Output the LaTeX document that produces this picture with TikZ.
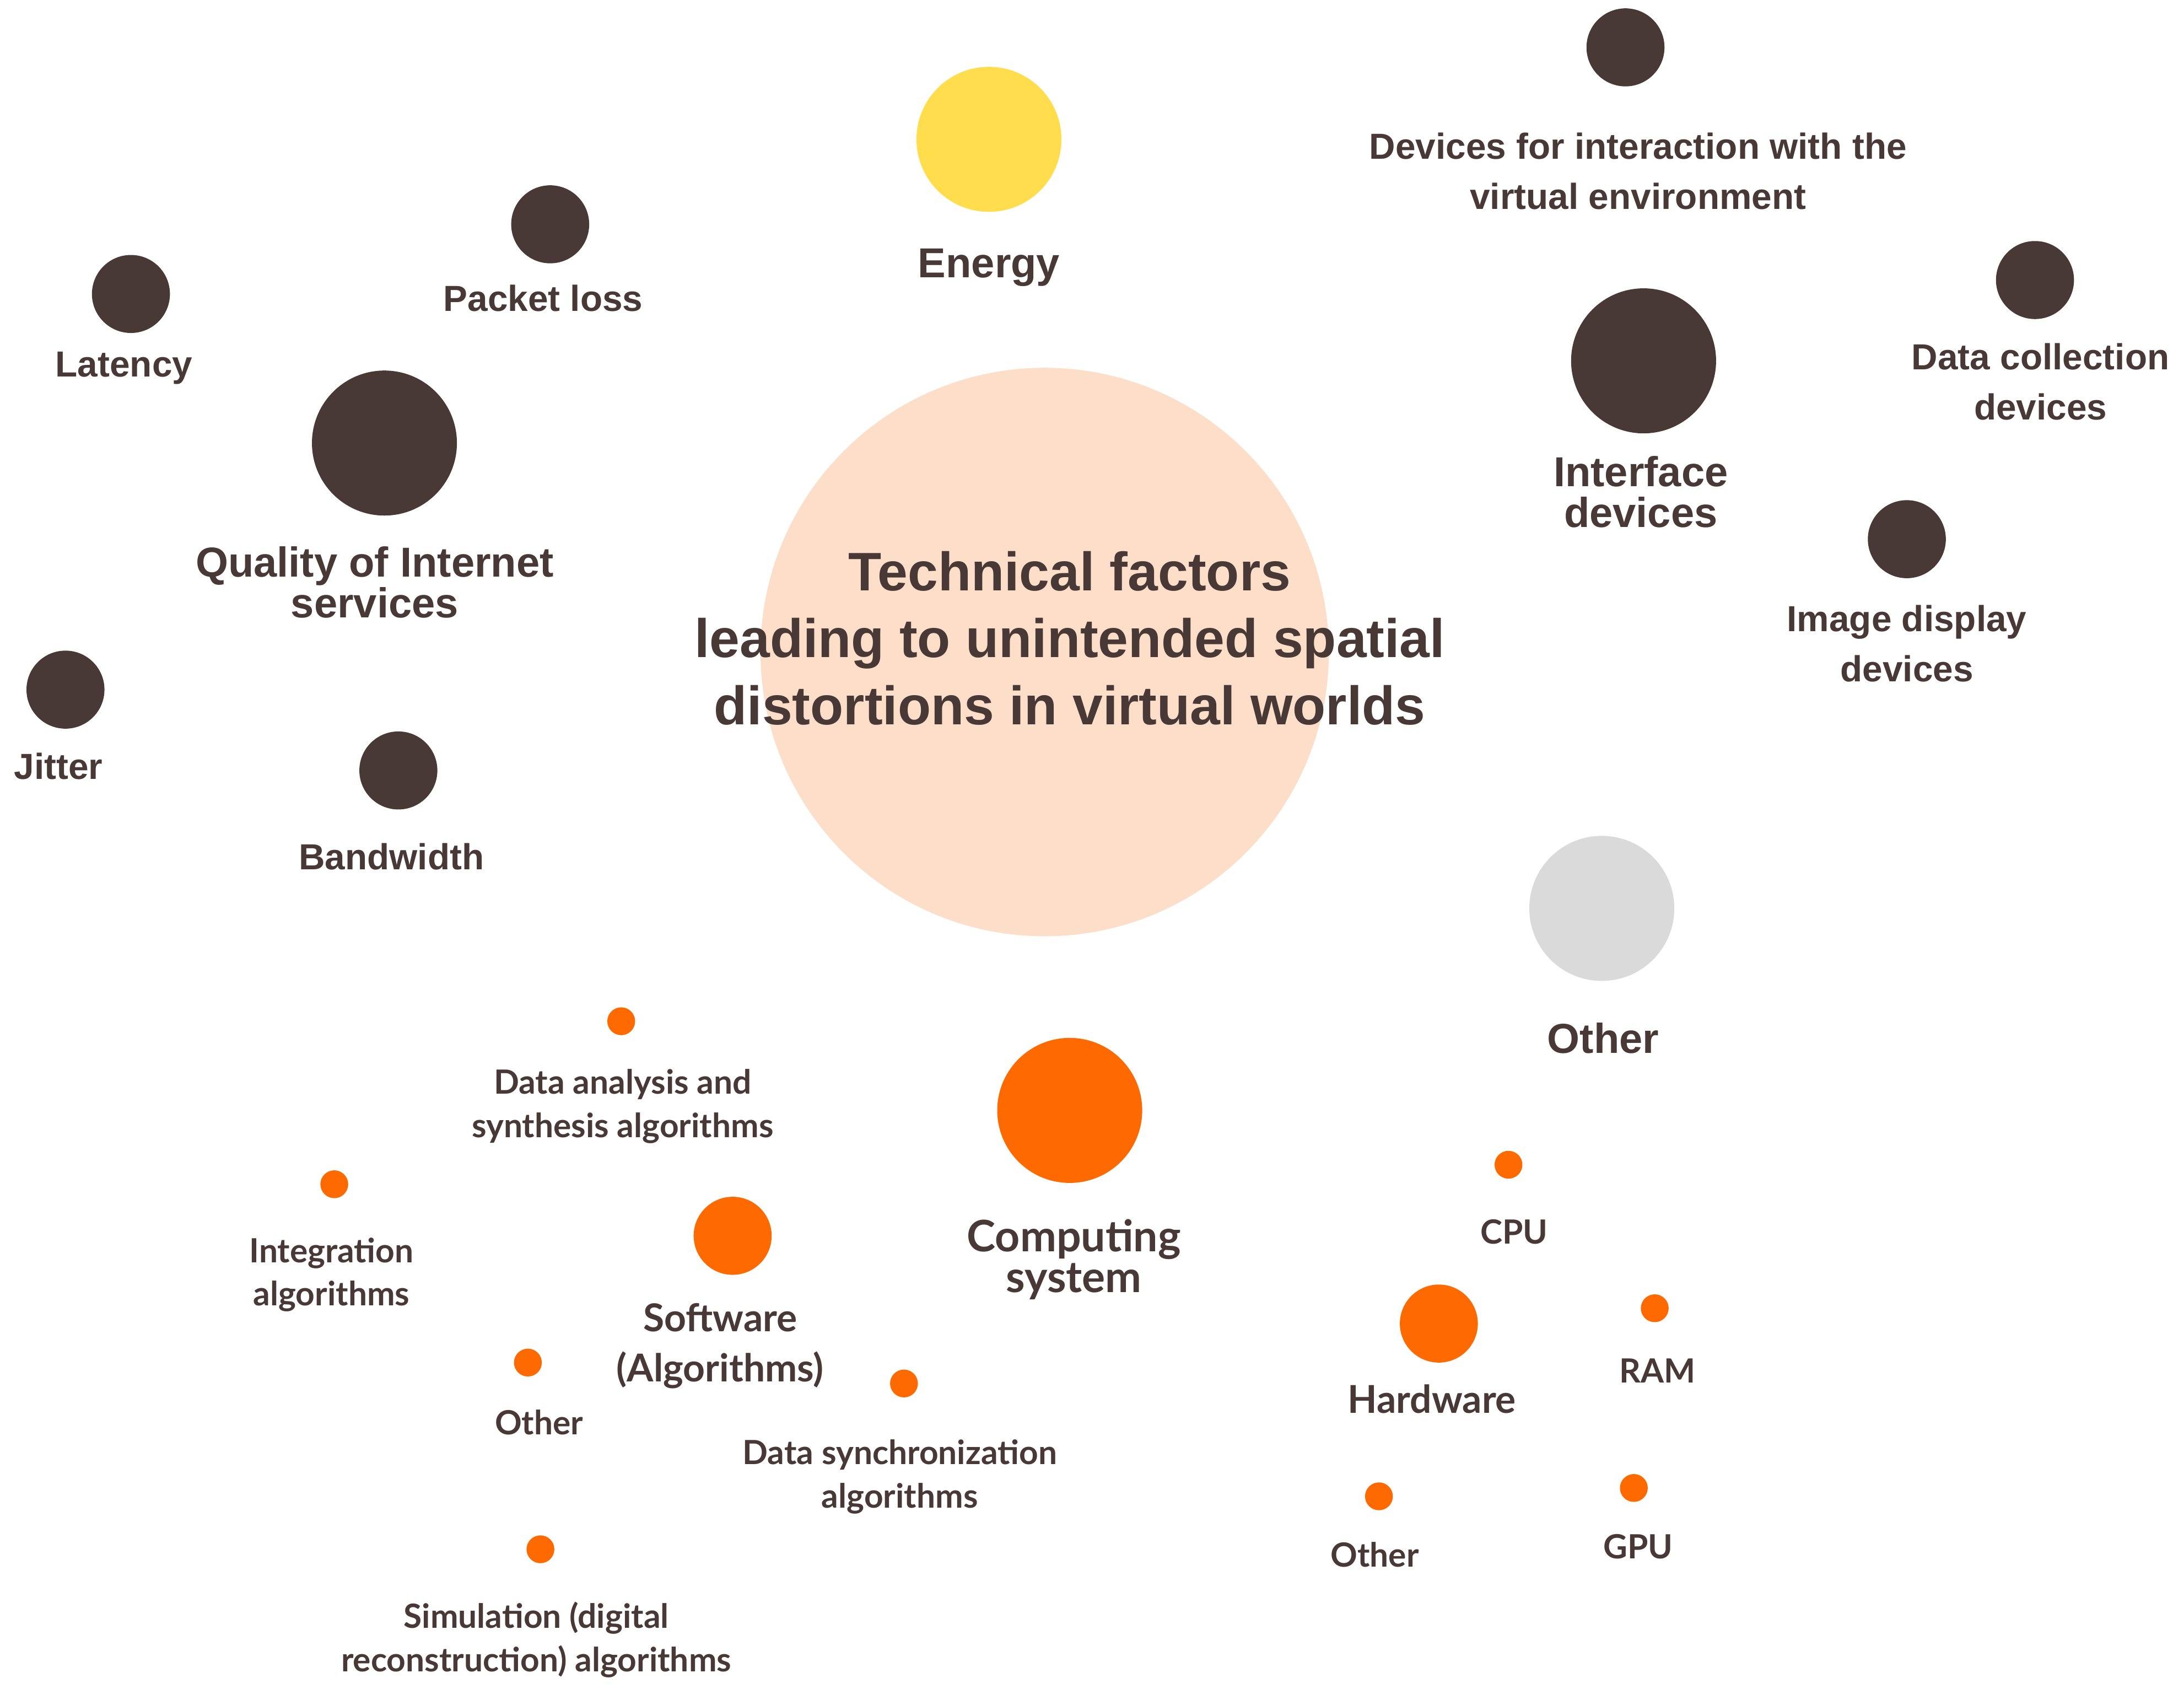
\documentclass[tikz,border=0pt]{standalone}
\usepackage{fontspec}
\setmainfont{Liberation Sans}
\newfontfamily\roundfont{Lato}
\usetikzlibrary{positioning}
\definecolor{DarkBrown}{RGB}{73,57,54}
\definecolor{PeachFill}{RGB}{253,222,200}
\definecolor{SunYellow}{RGB}{255,221,77}
\definecolor{FireOrange}{RGB}{255,106,0}
\definecolor{SoftGray}{RGB}{218,218,218}

\begin{document}
\begin{tikzpicture}[x=0.025274cm, y=-0.025274cm,
    every node/.style={text=DarkBrown},
    core/.style={circle, fill=PeachFill, minimum size=10.31cm, inner sep=0pt},
    bigdot/.style={circle, minimum size=2.63cm, inner sep=0pt},
    middot/.style={circle, fill=DarkBrown, minimum size=1.415cm, inner sep=0pt},
    tinydot/.style={circle, fill=FireOrange, minimum size=0.505cm, inner sep=0pt},
    title/.style={align=center, font=\bfseries\fontsize{28}{34.5}\selectfont},
    biglabel/.style={align=center, font=\bfseries\fontsize{21.6}{21.2}\selectfont},
    midlabel/.style={align=center, font=\bfseries\fontsize{18.7}{25.9}\selectfont},
    complabel/.style={align=center, font=\roundfont\bfseries\fontsize{22.4}{21.2}\selectfont},
    swlabel/.style={align=center, font=\roundfont\bfseries\fontsize{19.8}{25.9}\selectfont},
    smalllabel/.style={align=center, font=\roundfont\bfseries\fontsize{17.2}{22.3}\selectfont}
  ]
  \useasboundingbox (0,0) rectangle (1568,1212);

  % centre
  \node[core] (core) at (750,468) {};
  \node[title] (coretext) at (768,458) {Technical factors\\leading to unintended spatial\\distortions in virtual worlds};

  % energy
  \node[bigdot, fill=SunYellow] (energy) at (710,100) {};
  \node[biglabel] (energylbl) at (710,192) {Energy};

  % quality of internet services
  \node[bigdot, fill=DarkBrown] (quality) at (276,318) {};
  \node[biglabel] (qualitylbl) at (269,418) {Quality of Internet\\services};
  \node[middot] (packet) at (395,161) {};
  \node[midlabel] (packetlbl) at (390,214) {Packet loss};
  \node[middot] (latency) at (94,211) {};
  \node[midlabel] (latencylbl) at (89,264) {Latency};
  \node[middot] (jitter) at (47,495) {};
  \node[midlabel] (jitterlbl) at (42,550) {Jitter};
  \node[middot] (bandwidth) at (286,553) {};
  \node[midlabel] (bandwidthlbl) at (281,615) {Bandwidth};

  % interface devices
  \node[bigdot, fill=DarkBrown] (iface) at (1180,259) {};
  \node[biglabel] (ifacelbl) at (1178,353) {Interface\\devices};
  \node[middot] (interact) at (1167,34) {};
  \node[midlabel] (interactlbl) at (1176,123) {Devices for interaction with the\\virtual environment};
  \node[middot] (collect) at (1461,201) {};
  \node[midlabel] (collectlbl) at (1465,274) {Data collection\\devices};
  \node[middot] (display) at (1369,387) {};
  \node[midlabel] (displaylbl) at (1369,462) {Image display\\devices};

  % other
  \node[bigdot, fill=SoftGray] (other) at (1150,652) {};
  \node[biglabel] (otherlbl) at (1151,745) {Other};

  % computing system
  \node[bigdot, fill=FireOrange] (comp) at (768,797) {};
  \node[complabel] (complbl) at (771,904) {Computing\\system};

  % software
  \node[middot, fill=FireOrange] (soft) at (526,887) {};
  \node[swlabel] (softlbl) at (517,966) {Software\\(Algorithms)};
  \node[tinydot] (analysis) at (446,733) {};
  \node[smalllabel] (analysislbl) at (447,794) {Data analysis and\\synthesis algorithms};
  \node[tinydot] (integr) at (240,850) {};
  \node[smalllabel] (integrlbl) at (238,915) {Integration\\algorithms};
  \node[tinydot] (swother) at (379,978) {};
  \node[smalllabel] (swotherlbl) at (387,1021) {Other};
  \node[tinydot] (sync) at (649,993) {};
  \node[smalllabel] (synclbl) at (646,1060) {Data synchronization\\algorithms};
  \node[tinydot] (simul) at (388,1112) {};
  \node[smalllabel] (simullbl) at (385,1177) {Simulation (digital\\reconstruction) algorithms};

  % hardware
  \node[middot, fill=FireOrange] (hard) at (1033,950) {};
  \node[swlabel] (hardlbl) at (1028,1004) {Hardware};
  \node[tinydot] (cpu) at (1083,836) {};
  \node[smalllabel] (cpulbl) at (1087,884) {CPU};
  \node[tinydot] (ram) at (1188,939) {};
  \node[smalllabel] (ramlbl) at (1190,984) {RAM};
  \node[tinydot] (hwother) at (990,1074) {};
  \node[smalllabel] (hwotherlbl) at (987,1116) {Other};
  \node[tinydot] (gpu) at (1173,1068) {};
  \node[smalllabel] (gpulbl) at (1176,1110) {GPU};
\end{tikzpicture}
\end{document}
